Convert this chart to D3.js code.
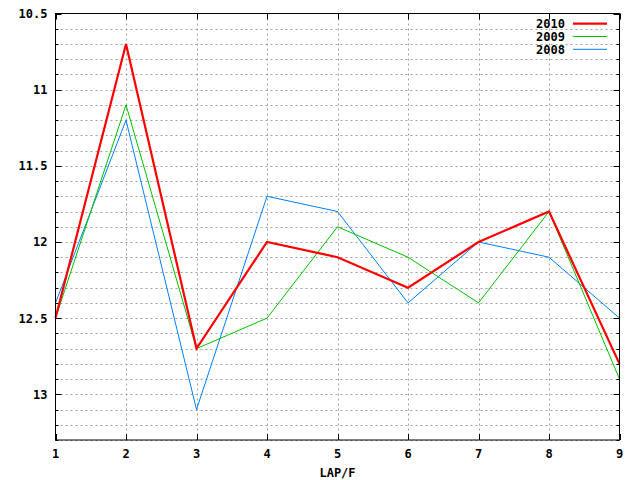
<!DOCTYPE html>
<html>
<head>
<meta charset="utf-8">
<script src="https://cdn.jsdelivr.net/npm/d3@7"></script>
<style>
  body { margin: 0; background: #fff; }
  text { font-family: "DejaVu Sans Mono", monospace; font-weight: bold; font-size: 12px; fill: #000; }
</style>
</head>
<body>
<svg id="chart" width="640" height="480"></svg>
<script>
// lap numbers and lap times per season
var laps = [1, 2, 3, 4, 5, 6, 7, 8, 9];
var times2010 = [12.5, 10.7, 12.7, 12.0, 12.1, 12.3, 12.0, 11.8, 12.8];
var times2009 = [12.5, 11.1, 12.7, 12.5, 11.9, 12.1, 12.4, 11.8, 12.9];
var times2008 = [12.4, 11.2, 13.1, 11.7, 11.8, 12.4, 12.0, 12.1, 12.5];
var yMajorTicks = [10.5, 11, 11.5, 12, 12.5, 13];
var yMinorTicks = d3.range(105, 134).map(function (d) { return d / 10; });

var series = [
  { name: "2010", values: times2010, color: "#ff0000", width: 2.2 },
  { name: "2009", values: times2009, color: "#00c000", width: 1 },
  { name: "2008", values: times2008, color: "#0080ff", width: 1 }
];

var svg = d3.select("#chart");
var plotL = 55.5, plotR = 619.5, plotT = 13.5, plotB = 440;

var x = d3.scaleLinear().domain([1, 9]).range([plotL, plotR]);
var y = d3.scaleLinear().domain([10.5, 13.3]).range([plotT, plotB]);

// dashed grid
var grid = svg.append("g").attr("stroke", "#a0a0a0").attr("stroke-dasharray", "2,3").attr("stroke-width", 1);
grid.selectAll("line.h").data(yMinorTicks.slice(1)).enter().append("line")
  .attr("x1", plotL).attr("x2", plotR)
  .attr("y1", function (d) { return Math.round(y(d)) + 0.5; })
  .attr("y2", function (d) { return Math.round(y(d)) + 0.5; });
grid.selectAll("line.v").data(laps.slice(1, -1)).enter().append("line")
  .attr("y1", plotT).attr("y2", plotB)
  .attr("x1", function (d) { return Math.round(x(d)) + 0.5; })
  .attr("x2", function (d) { return Math.round(x(d)) + 0.5; });

// tick marks on all four sides
var ticks = svg.append("g").attr("stroke", "#000").attr("stroke-width", 1);
yMinorTicks.forEach(function (d) {
  var major = yMajorTicks.some(function (m) { return Math.abs(m - d) < 1e-6; });
  var len = major ? 6 : 3;
  var yy = Math.round(y(d)) + 0.5;
  ticks.append("line").attr("x1", plotL).attr("x2", plotL + len).attr("y1", yy).attr("y2", yy);
  ticks.append("line").attr("x1", plotR - len).attr("x2", plotR).attr("y1", yy).attr("y2", yy);
});
laps.forEach(function (d) {
  var xx = Math.round(x(d)) + 0.5;
  ticks.append("line").attr("x1", xx).attr("x2", xx).attr("y1", plotB).attr("y2", plotB - 6);
  ticks.append("line").attr("x1", xx).attr("x2", xx).attr("y1", plotT).attr("y2", plotT + 6);
});

// axis labels
svg.append("g").selectAll("text").data(yMajorTicks).enter().append("text")
  .attr("x", plotL - 8).attr("y", function (d) { return y(d) + 4.5; })
  .attr("text-anchor", "end")
  .text(function (d) { return d; });
svg.append("g").selectAll("text").data(laps).enter().append("text")
  .attr("x", function (d) { return x(d); }).attr("y", 457.5)
  .attr("text-anchor", "middle")
  .text(function (d) { return d; });
svg.append("text").attr("x", (plotL + plotR) / 2).attr("y", 477)
  .attr("text-anchor", "middle").text("LAP/F");

// series lines, thin ones first
var line = d3.line()
  .x(function (d, i) { return x(laps[i]); })
  .y(function (d) { return y(d); });
series.slice().reverse().forEach(function (s) {
  svg.append("path").datum(s.values)
    .attr("d", line)
    .attr("fill", "none")
    .attr("stroke", s.color)
    .attr("stroke-width", s.width)
    .attr("stroke-linejoin", "miter");
});

// frame
svg.append("rect").attr("x", plotL).attr("y", plotT)
  .attr("width", plotR - plotL).attr("height", plotB - plotT)
  .attr("fill", "none").attr("stroke", "#000").attr("stroke-width", 1);

// legend
var legend = svg.append("g");
series.forEach(function (s, i) {
  var ly = 23.7 + i * 12.8;
  legend.append("text").attr("x", 565).attr("y", ly + 4.3)
    .attr("text-anchor", "end").text(s.name);
  legend.append("line").attr("x1", 573).attr("x2", 607)
    .attr("y1", ly).attr("y2", ly)
    .attr("stroke", s.color).attr("stroke-width", s.width);
});
</script>
</body>
</html>
